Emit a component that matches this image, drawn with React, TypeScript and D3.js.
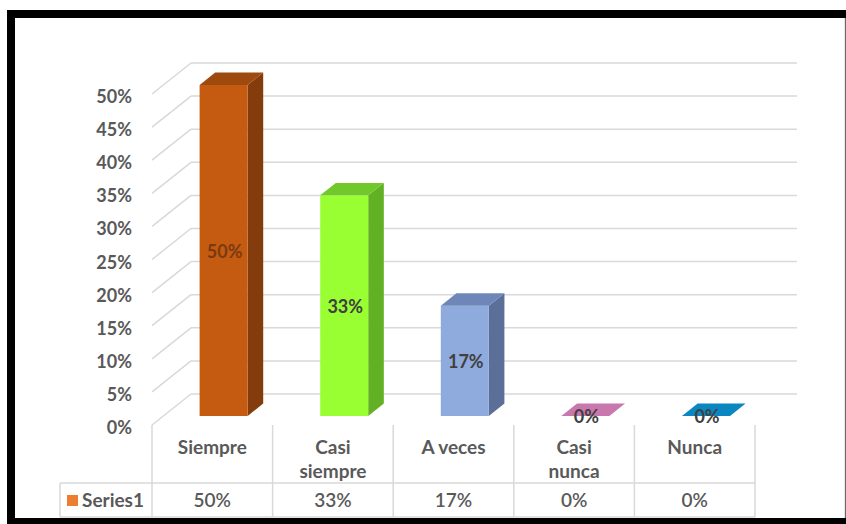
import React from "react";
import * as d3 from "d3";

const categories = ["Siempre", "Casi siempre", "A veces", "Casi nunca", "Nunca"];
const categoryLines = [["Siempre"], ["Casi", "siempre"], ["A veces"], ["Casi", "nunca"], ["Nunca"]];
const values = [0.5, 0.3333, 0.1667, 0, 0];
const valueLabels = ["50%", "33%", "17%", "0%", "0%"];
const yTicks = [0, 0.05, 0.1, 0.15, 0.2, 0.25, 0.3, 0.35, 0.4, 0.45, 0.5];
const seriesName = "Series1";

const frontColors = ["#C55A11", "#99FF33", "#8FAADC", "#D98BBE", "#1A9AD6"];
const topColors = ["#9E4A0F", "#70C82A", "#6E87B8", "#C878AC", "#0A86C0"];
const sideColors = ["#843C0C", "#62B024", "#5B6F99", "#A8608F", "#086E9E"];

const W = 846;
const H = 524;
const FONT = "Lato, 'Open Sans', sans-serif";
const GRID = "#D9D9D9";

export default function App() {
  const x = d3.scaleBand<string>().domain(categories).range([152, 755]).padding(0);
  const y = d3.scaleLinear().domain([0, 0.5]).range([425, 94]);
  const D = { x: 39, y: -31 };
  const t0 = 0.29;
  const t1 = 0.69;
  const barW = 48;
  const bw = x.bandwidth();
  const backRight = 797;
  const pct = d3.format(".0%");

  const bars = categories.map((c, i) => {
    const fx0 = (x(c) as number) + (bw - barW) / 2 + D.x * t0;
    const fx1 = fx0 + barW;
    const fyb = y(0) + D.y * t0;
    const fyt = y(values[i]) + D.y * t0;
    const dx = D.x * (t1 - t0);
    const dy = D.y * (t1 - t0);
    return { c, i, fx0, fx1, fyb, fyt, dx, dy };
  });

  const tableTop = 425;
  const rowSep = 483;
  const tableBottom = 517;
  const legendLeft = 60;

  return (
    <svg
      width={W}
      height={H}
      style={{ position: "absolute", left: 0, top: 0, background: "#fff" }}
      fontFamily={FONT}
    >
      <defs>
        <clipPath id="plotclip">
          <rect x={0} y={0} width={W} height={423} />
        </clipPath>
      </defs>
      {/* frame */}
      <rect x={0} y={0} width={W} height={H} fill="#fff" />
      <rect x={7} y={10} width={W} height={H} fill="#000" />
      <rect x={15} y={18} width={830} height={500} fill="#fff" />
      <line x1={845} x2={845} y1={18} y2={518} stroke="#D0D0D0" strokeWidth={1} />

      {/* gridlines: back wall and left wall */}
      {yTicks.map((v) => (
        <g key={v}>
          <line
            x1={x.range()[0] + D.x}
            x2={backRight}
            y1={y(v) + D.y}
            y2={y(v) + D.y}
            stroke={GRID}
            strokeWidth={1.5}
          />
          <line
            x1={x.range()[0]}
            x2={x.range()[0] + D.x}
            y1={y(v)}
            y2={y(v) + D.y}
            stroke={GRID}
            strokeWidth={1.5}
          />
          <text
            x={132}
            y={y(v) + 9}
            textAnchor="end"
            fontSize={18}
            fontWeight={700}
            fill="#595959"
          >
            {pct(v)}
          </text>
        </g>
      ))}

      {/* bars */}
      {bars.map((b) => (
        <g key={b.c}>
          <polygon
            points={`${b.fx1},${b.fyb} ${b.fx1 + b.dx},${b.fyb + b.dy} ${b.fx1 + b.dx},${b.fyt + b.dy} ${b.fx1},${b.fyt}`}
            fill={sideColors[b.i]}
          />
          <rect
            x={b.fx0}
            y={b.fyt}
            width={barW}
            height={Math.max(0, b.fyb - b.fyt)}
            fill={frontColors[b.i]}
          />
          <polygon
            points={`${b.fx0},${b.fyt} ${b.fx0 + b.dx},${b.fyt + b.dy} ${b.fx1 + b.dx},${b.fyt + b.dy} ${b.fx1},${b.fyt}`}
            fill={topColors[b.i]}
          />
        </g>
      ))}

      {/* data labels */}
      <g clipPath="url(#plotclip)">
        {bars.map((b) => (
          <text
            key={b.c}
            x={(b.fx0 + b.fx1) / 2 + 1}
            y={(b.fyt + b.fyb) / 2 + 7}
            textAnchor="middle"
            fontSize={18}
            fontWeight={700}
            fill={b.i === 0 ? "#7A3A10" : "#404040"}
          >
            {valueLabels[b.i]}
          </text>
        ))}
      </g>

      {/* data table */}
      <line x1={legendLeft} x2={755} y1={rowSep} y2={rowSep} stroke={GRID} strokeWidth={1.5} />
      <line x1={legendLeft} x2={755} y1={tableBottom} y2={tableBottom} stroke={GRID} strokeWidth={1.5} />
      <line x1={legendLeft} x2={legendLeft} y1={rowSep} y2={tableBottom} stroke={GRID} strokeWidth={1.5} />
      {[...categories.map((c) => x(c) as number), x.range()[1]].map((vx, k) => (
        <line key={k} x1={vx} x2={vx} y1={tableTop} y2={tableBottom} stroke={GRID} strokeWidth={1.5} />
      ))}
      {categories.map((c, i) => (
        <g key={c}>
          {categoryLines[i].map((ln, j) => (
            <text
              key={j}
              x={(x(c) as number) + bw / 2}
              y={454 + j * 24}
              textAnchor="middle"
              fontSize={19}
              fontWeight={700}
              fill="#595959"
            >
              {ln}
            </text>
          ))}
          <text
            x={(x(c) as number) + bw / 2}
            y={507}
            textAnchor="middle"
            fontSize={19}
            fontWeight={600}
            fill="#595959"
          >
            {valueLabels[i]}
          </text>
        </g>
      ))}
      <rect x={67} y={495} width={11} height={11} fill="#ED7D31" />
      <text x={82} y={507} fontSize={19} fontWeight={700} fill="#595959">
        {seriesName}
      </text>
    </svg>
  );
}
